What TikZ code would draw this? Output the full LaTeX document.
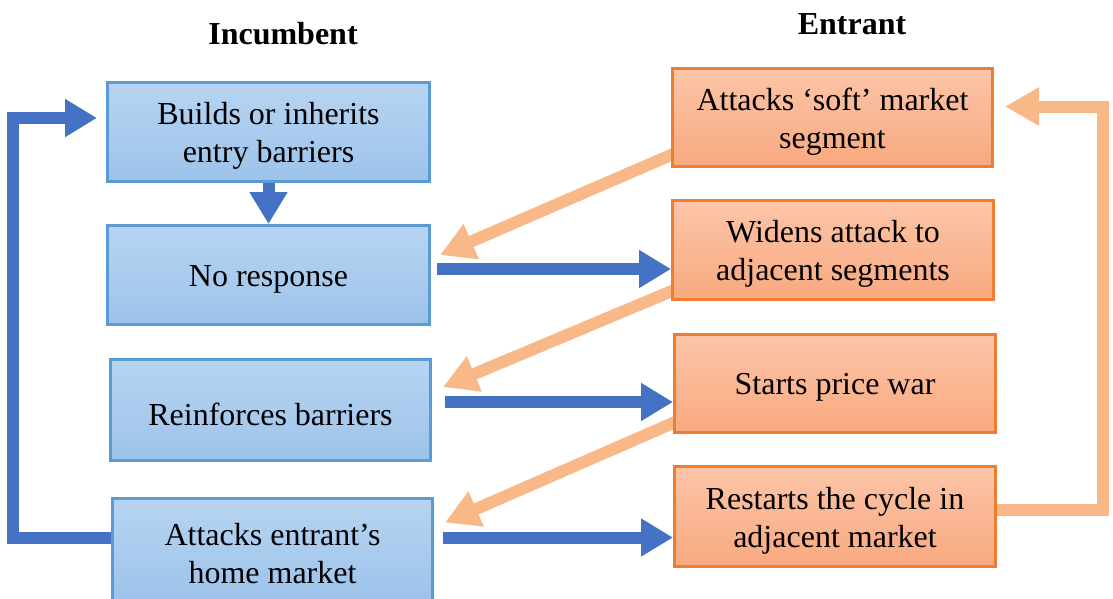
\documentclass[tikz,border=0pt]{standalone}
\usepackage{fontspec}
\setmainfont{Liberation Serif}
\usetikzlibrary{arrows.meta,calc,backgrounds}
\definecolor{blueline}{HTML}{5B9BD5}
\definecolor{bluetop}{HTML}{B7D4F2}
\definecolor{bluebot}{HTML}{9DC3EA}
\definecolor{orangeline}{HTML}{ED7D31}
\definecolor{orangetop}{HTML}{FCC5A8}
\definecolor{orangebot}{HTML}{F8A97F}
\definecolor{arrblue}{HTML}{4472C4}
\definecolor{arrorange}{HTML}{F8B888}
\begin{document}
\begin{tikzpicture}[x=1pt,y=-1pt,
  box/.style={rectangle, line width=3pt, inner sep=0pt},
  txt/.style={align=center, inner sep=0pt, yshift=-4pt,
    font=\fontsize{32}{38}\selectfont},
  incbox/.style={box, draw=blueline, top color=bluetop, bottom color=bluebot},
  entbox/.style={box, draw=orangeline, top color=orangetop, bottom color=orangebot},
  head/.style={font=\bfseries\fontsize{32}{38}\selectfont},
  barrow/.style={draw=arrblue, line width=12pt, line join=miter,
    -{Triangle[width=36pt,length=32pt]}},
  oarrow/.style={draw=arrorange, line width=12pt, line join=miter,
    -{Triangle[width=36pt,length=34pt]}},
]
\useasboundingbox (0,0) rectangle (1113,598);
\clip (0,0) rectangle (1113,598);

% column headings
\node[head] (inc) at (283,34) {Incumbent};
\node[head] (ent) at (852,24) {Entrant};

% incumbent moves
\node[incbox, minimum width=322pt, minimum height=99pt,
  label={[txt]center:Builds or inherits\\entry barriers}] (builds) at (268.5,132) {};
\node[incbox, minimum width=322pt, minimum height=99pt,
  label={[txt]center:No response}] (nores) at (268.5,275) {};
\node[incbox, minimum width=320pt, minimum height=101pt,
  label={[txt]center:Reinforces barriers}] (reinf) at (270.5,410) {};
\node[incbox, minimum width=320pt, minimum height=102pt,
  label={[txt]center:Attacks entrant’s\\home market}] (home) at (272.5,549.5) {};

% entrant moves
\node[entbox, minimum width=320pt, minimum height=98pt,
  label={[txt]center:Attacks ‘soft’ market\\segment}] (soft) at (832.5,117.5) {};
\node[entbox, minimum width=321pt, minimum height=99pt,
  label={[txt]center:Widens attack to\\adjacent segments}] (widens) at (833,250) {};
\node[entbox, minimum width=321pt, minimum height=98pt,
  label={[txt]center:Starts price war}] (price) at (835,383.5) {};
\node[entbox, minimum width=321pt, minimum height=100pt,
  label={[txt]center:Restarts the cycle in\\adjacent market}] (restart) at (835,516.5) {};

\begin{scope}[on background layer]
  % incumbent responses
  \draw[barrow] (builds.south) -- (nores.north);
  \coordinate (b1) at ($(nores.east)+(6,-6)$);
  \draw[barrow] (b1) -- (b1 -| widens.west);
  \coordinate (b2) at ($(reinf.east)+(13,-8)$);
  \draw[barrow] (b2) -- (b2 -| price.west);
  \coordinate (b3) at ($(home.east)+(9,-12)$);
  \draw[barrow] (b3) -- (b3 -| restart.west);
  \draw[barrow] ($(home.west)+(6,-12)$) -- ++(-104,0) |- ($(builds.west)+(-9,-14)$);

  % entrant moves
  \draw[oarrow] ($(soft.west)+(8,34)$) -- ($(nores.east)+(9,-20)$);
  \draw[oarrow] ($(widens.west)+(8,38)$) -- ($(reinf.east)+(11,-23)$);
  \draw[oarrow] ($(price.west)+(8,36)$) -- ($(home.east)+(11,-27)$);
  \draw[oarrow] ($(restart.east)+(-6,-7)$) -- ++(112,0) |- ($(soft.east)+(11,-11)$);
\end{scope}
\end{tikzpicture}
\end{document}
